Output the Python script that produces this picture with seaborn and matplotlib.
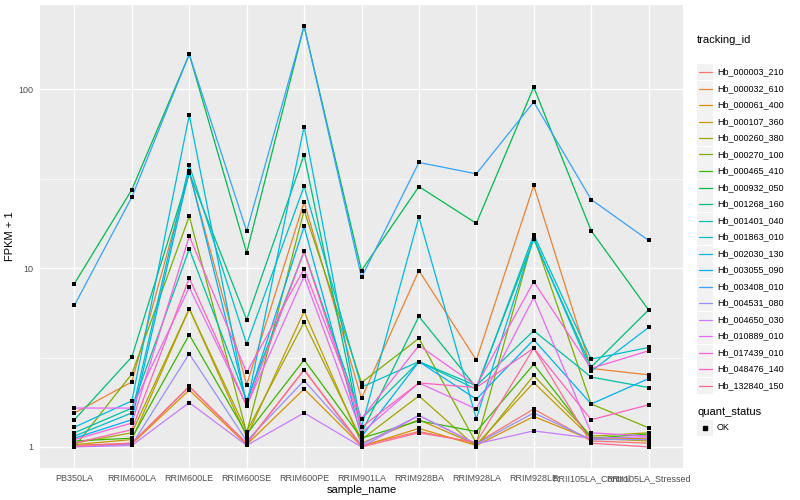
import numpy as np
import pandas as pd
import matplotlib
matplotlib.use('Agg')
import matplotlib.pyplot as plt
import seaborn as sns
from matplotlib.lines import Line2D
from matplotlib.patches import Rectangle
from matplotlib.ticker import FixedLocator, NullFormatter, FixedFormatter

samples = ['PB350LA', 'RRIM600LA', 'RRIM600LE', 'RRIM600SE', 'RRIM600PE',
           'RRIM901LA', 'RRIM928BA', 'RRIM928LA', 'RRIM928LE',
           'RRII105LA_Control', 'RRII105LA_Stressed']

# FPKM + 1, une liste par gène
hb_000003_210 = [1.02, 1.05, 2.18, 1.05, 2.70, 1.02, 1.22, 1.05, 1.63, 1.08, 1.05]
hb_000032_610 = [1.55, 2.31, 34.1, 2.23, 23.4, 1.87, 9.7, 3.06, 29.0, 2.75, 2.53]
hb_000061_400 = [1.01, 1.04, 2.08, 1.03, 2.11, 1.01, 1.27, 1.02, 1.48, 1.10, 1.12]
hb_000107_360 = [1.03, 1.10, 5.93, 1.14, 5.73, 1.05, 1.42, 1.03, 2.29, 1.12, 1.08]
hb_000260_380 = [1.05, 1.20, 5.93, 1.22, 4.97, 1.10, 1.93, 1.00, 2.51, 1.15, 1.20]
hb_000270_100 = [1.00, 2.56, 19.5, 1.20, 21.0, 2.29, 4.05, 1.05, 15.0, 1.74, 1.28]
hb_000465_410 = [1.08, 1.12, 4.24, 1.18, 3.07, 1.12, 1.40, 1.22, 2.90, 1.12, 1.18]
hb_000932_050 = [8.2, 27.5, 157, 12.2, 226, 9.7, 28.6, 17.8, 103, 16.2, 5.84]
hb_001268_160 = [1.42, 3.19, 34.1, 5.15, 43.0, 1.20, 5.37, 2.15, 14.5, 2.80, 5.84]
hb_001401_040 = [1.20, 1.65, 12.8, 1.82, 12.4, 1.44, 3.00, 2.20, 4.47, 2.46, 2.15]
hb_001863_010 = [1.15, 1.55, 37.7, 3.76, 28.7, 2.16, 3.00, 2.10, 15.4, 3.10, 3.60]
hb_002030_130 = [1.29, 1.81, 71.8, 1.70, 61.8, 1.29, 19.3, 1.44, 14.8, 2.65, 4.66]
hb_003055_090 = [1.12, 1.42, 35.0, 1.75, 17.1, 1.14, 3.00, 1.85, 3.98, 1.74, 2.41]
hb_003408_010 = [6.2, 25.0, 157, 16.1, 226, 8.87, 39.0, 33.7, 85.0, 24.2, 14.3]
hb_004531_080 = [1.01, 1.03, 3.32, 1.08, 2.35, 1.03, 1.50, 1.04, 1.55, 1.10, 1.10]
hb_004650_030 = [1.00, 1.02, 1.77, 1.02, 1.55, 1.00, 1.50, 1.04, 1.23, 1.12, 1.14]
hb_010889_010 = [1.65, 1.65, 7.8, 1.70, 9.0, 1.20, 2.28, 1.63, 6.86, 1.20, 1.15]
hb_017439_010 = [1.10, 1.36, 15.1, 2.61, 9.9, 1.44, 3.69, 2.20, 8.4, 2.75, 3.45]
hb_048476_140 = [1.05, 1.25, 8.8, 1.70, 12.4, 1.29, 2.28, 2.15, 3.57, 1.42, 1.72]
hb_132840_150 = [1.01, 1.05, 2.18, 1.04, 2.70, 1.00, 1.20, 1.06, 3.57, 1.05, 1.00]

tracking_ids = ['Hb_000003_210', 'Hb_000032_610', 'Hb_000061_400', 'Hb_000107_360',
                'Hb_000260_380', 'Hb_000270_100', 'Hb_000465_410', 'Hb_000932_050',
                'Hb_001268_160', 'Hb_001401_040', 'Hb_001863_010', 'Hb_002030_130',
                'Hb_003055_090', 'Hb_003408_010', 'Hb_004531_080', 'Hb_004650_030',
                'Hb_010889_010', 'Hb_017439_010', 'Hb_048476_140', 'Hb_132840_150']
series = [hb_000003_210, hb_000032_610, hb_000061_400, hb_000107_360,
          hb_000260_380, hb_000270_100, hb_000465_410, hb_000932_050,
          hb_001268_160, hb_001401_040, hb_001863_010, hb_002030_130,
          hb_003055_090, hb_003408_010, hb_004531_080, hb_004650_030,
          hb_010889_010, hb_017439_010, hb_048476_140, hb_132840_150]

# palette hue de ggplot pour 20 niveaux
palette = ['#F8766D', '#EA8331', '#D89000', '#C09B00', '#A3A500', '#7CAE00',
           '#39B600', '#00BB4E', '#00BF7D', '#00C1A3', '#00BFC4', '#00BAE0',
           '#00B0F6', '#35A2FF', '#9590FF', '#C77CFF', '#E76BF3', '#FA62DB',
           '#FF62BC', '#FF6C91']

rows = []
for tid, vals in zip(tracking_ids, series):
    for s, v in zip(samples, vals):
        rows.append({'tracking_id': tid, 'sample_name': s, 'fpkm': v, 'quant_status': 'OK'})
df = pd.DataFrame(rows)

sns.set_style('darkgrid', {'axes.facecolor': '#EBEBEB', 'grid.color': 'white'})
plt.rcParams['font.family'] = ['Liberation Sans', 'DejaVu Sans']
plt.rcParams['text.color'] = 'black'
plt.rcParams['axes.labelcolor'] = 'black'

fig = plt.figure(figsize=(8, 5), dpi=100)
W, H = 800, 500
ax = fig.add_axes([40 / W, 1 - 468 / H, (683 - 40) / W, (468 - 5) / H])
ax.set_yscale('log')

sns.lineplot(data=df, x='sample_name', y='fpkm', hue='tracking_id', hue_order=tracking_ids,
             palette=palette, legend=False, linewidth=0.9, sort=False, ax=ax, zorder=2)
sns.scatterplot(data=df, x='sample_name', y='fpkm', color='black', marker='s', s=11,
                linewidth=0, legend=False, ax=ax, zorder=3)

lo, hi = np.log10(df['fpkm'].min()), np.log10(df['fpkm'].max())
pad = (hi - lo) * 0.05
ax.set_ylim(10 ** (lo - pad), 10 ** (hi + pad))
ax.set_xlim(-0.6, len(samples) - 0.4)

ax.yaxis.set_major_locator(FixedLocator([1, 10, 100]))
ax.yaxis.set_major_formatter(FixedFormatter(['1', '10', '100']))
ax.yaxis.set_minor_locator(FixedLocator([10 ** 0.5, 10 ** 1.5]))
ax.yaxis.set_minor_formatter(NullFormatter())
ax.grid(which='major', color='white', linewidth=1.0)
ax.grid(which='minor', axis='y', color='white', linewidth=0.5)
for sp in ax.spines.values():
    sp.set_visible(False)
ax.tick_params(which='major', length=2.5, width=0.8, color='#333333',
               labelcolor='#4D4D4D', labelsize=6.5, pad=2)
ax.tick_params(which='minor', length=0)
ax.set_xlabel('sample_name', fontsize=8, labelpad=1)
ax.set_ylabel('FPKM + 1', fontsize=8, labelpad=3)


def fx(x):
    return x / W


def fy(y):
    return 1 - y / H


# légende façon ggplot
fig.text(fx(697), fy(40), 'tracking_id', fontsize=8, va='center', ha='left', color='black')
for i, (tid, col) in enumerate(zip(tracking_ids, palette)):
    yc = 72 + i * 16.5
    fig.patches.append(Rectangle((fx(697), fy(yc + 8)), 16 / W, 16 / H,
                                 transform=fig.transFigure, facecolor='#F2F2F2',
                                 edgecolor='none'))
    fig.lines.append(Line2D([fx(698.5), fx(711.5)], [fy(yc), fy(yc)],
                            transform=fig.transFigure, color=col, linewidth=0.9))
    fig.text(fx(717), fy(yc), tid, fontsize=6.5, va='center', ha='left', color='black')

fig.text(fx(697), fy(412), 'quant_status', fontsize=8, va='center', ha='left', color='black')
fig.patches.append(Rectangle((fx(697), fy(428 + 8)), 16 / W, 16 / H,
                             transform=fig.transFigure, facecolor='#F2F2F2',
                             edgecolor='none'))
fig.lines.append(Line2D([fx(705)], [fy(428)], transform=fig.transFigure,
                        color='black', marker='s', markersize=2.8, linestyle='none'))
fig.text(fx(717), fy(428), 'OK', fontsize=6.5, va='center', ha='left', color='black')

fig.savefig('out.png', dpi=100)
plt.close(fig)
